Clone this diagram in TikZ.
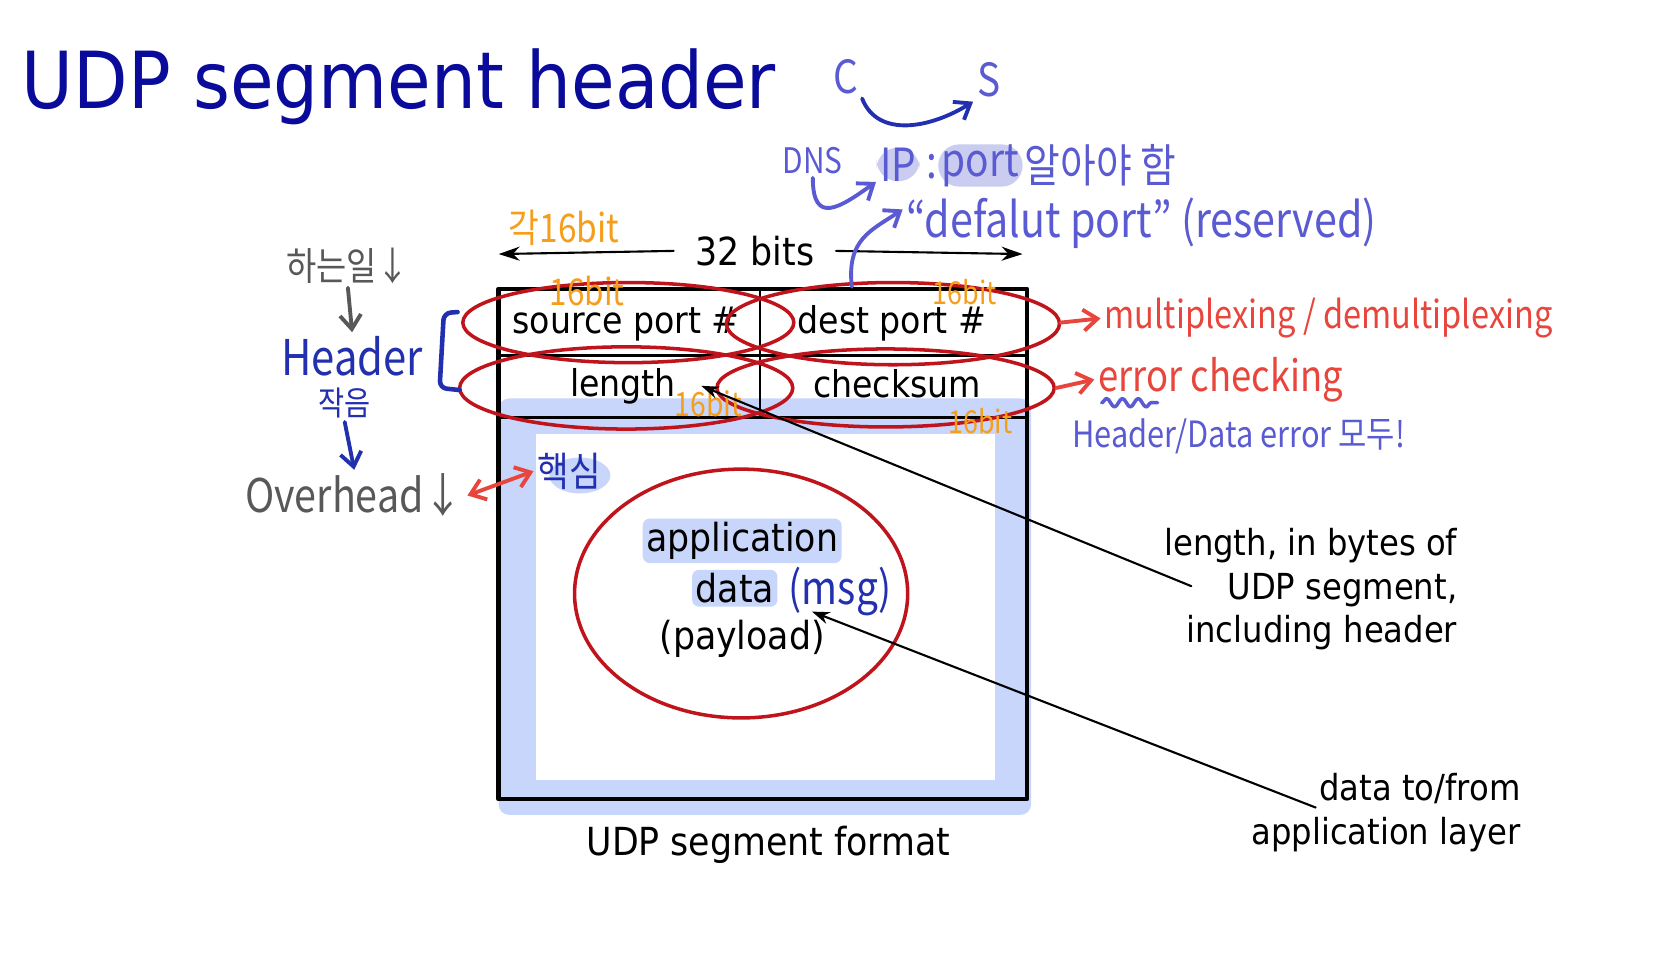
\documentclass[tikz,border=0pt]{standalone}
\usepackage{fontspec}
\setmainfont{DejaVu Sans Condensed}
\newfontfamily\handfont{Noto Sans CJK KR}[FakeStretch=0.85]
\usetikzlibrary{arrows.meta,decorations.pathmorphing}

\begin{document}
\begin{tikzpicture}[
    x=0.010542cm,
    y=-0.010542cm,
    line cap=round,
    line join=round,
]
\definecolor{udpTitle}{HTML}{0B0B9B}
\definecolor{ringRed}{HTML}{C0141C}
\definecolor{segBlue}{HTML}{C7D6FA}
\definecolor{hlLav}{HTML}{CACDEF}
\definecolor{noteOrange}{HTML}{F59E1B}
\definecolor{notePurple}{HTML}{5A5AD2}
\definecolor{noteNavy}{HTML}{2230B0}
\definecolor{noteRed}{HTML}{E8453C}
\definecolor{noteGray}{HTML}{585858}

\tikzset{
    frame/.style={draw=black,line width=1.3pt},
    divider/.style={draw=black,line width=0.7pt},
    titleText/.style={text=udpTitle,font=\fontsize{22.4}{26}\selectfont,inner sep=0pt},
    body/.style={font=\fontsize{11}{13}\selectfont,inner sep=1pt},
    cell/.style={font=\fontsize{10.5}{12.5}\selectfont,inner sep=0pt},
    caption/.style={font=\fontsize{10.2}{12.4}\selectfont,inner sep=0pt,align=right,anchor=east},
    ring/.style={draw=ringRed,line width=1.0pt},
    leader/.style={draw=black,line width=0.6pt,-{Stealth[length=5pt,width=3.5pt]}},
    dimArrow/.style={draw=black,line width=0.6pt,-{Stealth[length=6pt,width=4pt]}},
    hand/.style={font=\handfont\fontsize{#1}{#1}\selectfont,inner sep=1pt},
    handArrow/.style={line width=1.1pt,-{Straight Barb[length=4pt,width=6pt]}},
}

% page
\fill[white] (0,0) rectangle (1568,908);
\useasboundingbox (0,0) rectangle (1568,908);

\node[titleText,anchor=base west] (title) at (20,103) {UDP segment header};

% segment box
\fill[segBlue,rounded corners=3pt] (473,378) rectangle (978,773);
\fill[white] (508,412) rectangle (944,740);
\draw[divider] (473,337) -- (974,337);
\draw[divider] (473,396) -- (974,396);
\draw[divider] (721,274) -- (721,396);
\draw[frame] (473,274) rectangle (974,758);

\node[body,inner xsep=6pt] (bits) at (716,238) {32 bits};
\coordinate (bitsL) at (473,241);
\coordinate (bitsR) at (970,241);
\draw[dimArrow] (bits.west) -- (bitsL);
\draw[dimArrow] (bits.east) -- (bitsR);

\node[cell] (srcPort) at (594,307) {source port \#};
\node[cell] (dstPort) at (846,307) {dest port \#};
\node[cell] (lenField) at (591,366) {length};
\node[cell] (chkField) at (851,364) {checksum};

\node[body,fill=segBlue,rounded corners=2pt] (appWord) at (704,513) {application};
\node[body,fill=segBlue,rounded corners=2pt] (dataWord) at (697,558) {data};
\node[body] (payload) at (704,606) {(payload)};
\node[body] (fmtLabel) at (729,801) {UDP segment format};

\node[caption] (lenNote) at (1383,559) {length, in bytes of\\UDP segment,\\including header};
\node[caption] (dataNote) at (1443,771) {data to/from\\application layer};

% red rings
\draw[ring] (596,306) ellipse [x radius=157, y radius=38];
\draw[ring] (847,307) ellipse [x radius=158, y radius=39];
\draw[ring] (594,368) ellipse [x radius=158, y radius=39];
\draw[ring] (840,368) ellipse [x radius=160, y radius=37];
\draw[ring] (703,563) ellipse [x radius=158, y radius=118];
\coordinate (dstRingE) at (1006,306);
\coordinate (chkRingE) at (1002,368);
\coordinate (dstTop) at (808,272);

% orange notes
\node[hand=11.2,text=noteOrange] (each16) at (535,216) {각16bit};
\node[hand=10.5,text=noteOrange] (srcBits) at (557,276) {16bit};
\node[hand=9,text=noteOrange] (dstBits) at (915,277) {16bit};
\node[hand=9.5,text=noteOrange] (lenBits) at (672,383) {16bit};
\node[hand=9,text=noteOrange] (chkBits) at (930,399) {16bit};

% purple notes
\node[hand=13,text=notePurple] (cNode) at (802,73) {C};
\node[hand=13,text=notePurple] (sNode) at (938,76) {S};
\draw[handArrow,draw=noteNavy] (cNode.south east) .. controls +(15,38) and +(-40,25) .. (sNode.south west);

\node[hand=10,text=notePurple] (dns) at (771,152) {DNS};
\node[hand=13,text=notePurple,fill=hlLav,rounded corners=6pt,inner xsep=1pt,inner ysep=0pt] (ipTxt) at (852,156) {IP};
\node[hand=13,text=notePurple,fill=hlLav,rounded corners=6pt,inner xsep=1pt,inner ysep=0pt] (portTxt) at (930,157) {port};
\node[hand=13,text=notePurple,inner sep=0pt] (colon) at (884,158) {:};
\node[hand=13,text=notePurple] (mustKnow) at (1044,157) {알아야 함};
\draw[handArrow,draw=notePurple] (dns.south) .. controls +(0,45) and +(-35,25) .. (ipTxt.south west);

\node[hand=13.8,text=notePurple] (dflt) at (1083,212) {“defalut port” (reserved)};
\draw[handArrow,draw=notePurple] (dstTop) .. controls +(-5,-45) and +(-30,20) .. ([yshift=4pt]dflt.west);

% red notes
\node[hand=10.9,text=noteRed,anchor=west] (mux) at (1044,302) {multiplexing / demultiplexing};
\node[hand=12.2,text=noteRed,anchor=west] (errChk) at (1038,360) {error checking};
\draw[handArrow,draw=noteRed] (dstRingE) -- (mux.west);
\draw[handArrow,draw=noteRed] (chkRingE) -- (errChk.west);
\draw[notePurple,line width=1pt,decorate,decoration={snake,amplitude=1.2pt,segment length=4.5pt}] (1045,382) -- (1098,382);
\node[hand=10.3,text=notePurple,anchor=west] (bothErr) at (1013,414) {Header/Data error 모두!};

% left side
\node[hand=11,text=noteGray] (work) at (330,252) {하는일↓};
\node[hand=14,text=noteNavy] (hdr) at (334,338) {Header};
\node[hand=9.5,text=noteNavy] (small) at (327,382) {작음};
\node[hand=13.2,text=noteGray] (ovh) at (336,470) {Overhead↓};
\draw[handArrow,draw=noteGray] (work.south) -- (hdr.north);
\draw[handArrow,draw=noteNavy] (small.south) -- (ovh.north);
\draw[noteNavy,line width=1.3pt,rounded corners=2pt] (434,296) -- (421,297) -- (417,368) -- (436,370);

\fill[segBlue] (550,451) ellipse [x radius=29, y radius=17];
\node[hand=11.5,text=noteNavy] (core) at (540,447) {핵심};
\draw[handArrow,draw=noteRed,{Straight Barb[length=4pt,width=6pt]}-{Straight Barb[length=4pt,width=6pt]}] (ovh.east) -- (core.west);

\node[hand=13,text=noteNavy] (msgNote) at (797,561) {(msg)};

% leader lines
\coordinate (lenTail) at (1130,556);
\coordinate (dataTail) at (1248,766);
\draw[leader] (lenTail) -- ([xshift=7pt]lenField.east);
\draw[leader] (dataTail) -- ([shift={(26,-8)}]msgNote.south west);
\end{tikzpicture}
\end{document}
